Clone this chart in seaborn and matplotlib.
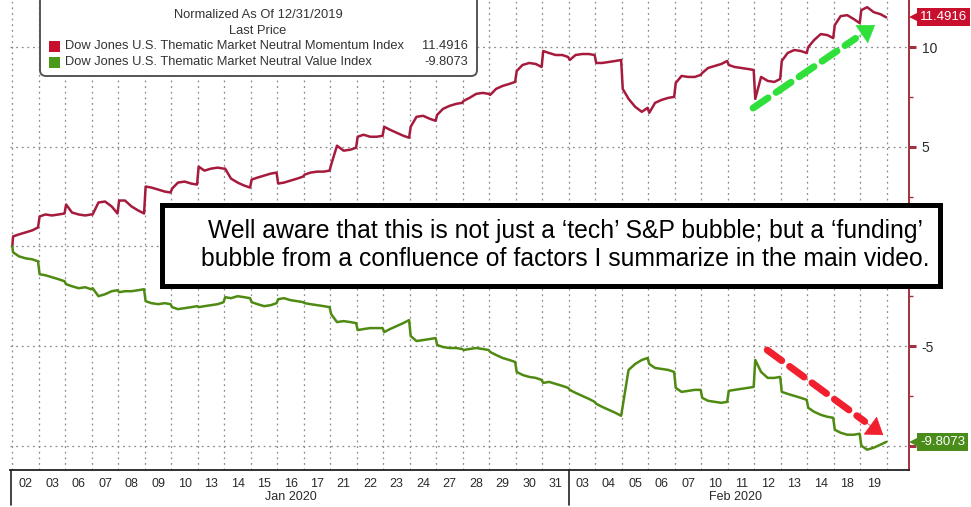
import numpy as np
import pandas as pd
import matplotlib
matplotlib.use("Agg")
import matplotlib.pyplot as plt
import matplotlib.transforms as mtrans
from matplotlib.patches import FancyBboxPatch, Rectangle
import seaborn as sns

# ---------------- data ----------------
day_labels = ["02", "03", "06", "07", "08", "09", "10", "13", "14", "15", "16", "17",
              "21", "22", "23", "24", "27", "28", "29", "30", "31",
              "03", "04", "05", "06", "07", "10", "11", "12", "13", "14", "18", "19"]
month_labels = ["Jan 2020", "Feb 2020"]
month_day_counts = [21, 12]
series_names = ["Dow Jones U.S. Thematic Market Neutral Momentum Index",
                "Dow Jones U.S. Thematic Market Neutral Value Index"]
last_prices = [11.4916, -9.8073]
legend_title = ["Normalized As Of 12/31/2019", "Last Price"]
base_value = 0.0  # close of 12/31/2019
intraday_fractions = [0.03, 0.25, 0.5, 0.75, 0.97]

momentum_intraday = [
    [0.5, 0.6, 0.7, 0.8, 0.95], [1.5, 1.6, 1.55, 1.6, 1.65], [2.1, 1.7, 1.6, 1.55, 1.6],
    [1.6, 2.2, 2.25, 2.0, 1.65], [2.3, 2.3, 2.0, 1.8, 1.65], [3.0, 2.95, 2.85, 2.75, 2.7],
    [2.9, 3.2, 3.25, 3.15, 3.1], [4.0, 3.8, 3.9, 3.95, 3.9], [3.9, 3.4, 3.2, 3.05, 2.95],
    [3.35, 3.45, 3.55, 3.65, 3.7], [3.15, 3.2, 3.3, 3.4, 3.5], [3.6, 3.7, 3.75, 3.75, 3.8],
    [4.1, 5.05, 4.8, 4.85, 4.95], [5.5, 5.6, 5.5, 5.5, 5.55], [6.0, 5.85, 5.7, 5.55, 5.45],
    [6.0, 6.5, 6.55, 6.4, 6.3], [6.6, 6.9, 7.05, 7.15, 7.2], [7.3, 7.45, 7.65, 7.7, 7.65],
    [7.6, 7.9, 8.05, 8.15, 8.25], [8.8, 9.1, 9.2, 9.15, 9.0], [9.8, 9.7, 9.6, 9.6, 9.5],
    [9.35, 9.6, 9.65, 9.65, 9.6], [9.2, 9.2, 9.25, 9.3, 9.35], [7.9, 7.4, 7.0, 6.75, 6.95],
    [6.7, 7.2, 7.35, 7.45, 7.5], [8.2, 8.55, 8.5, 8.5, 8.6], [8.7, 8.95, 9.05, 9.15, 9.3],
    [9.1, 9.0, 8.95, 8.9, 8.85], [7.4, 8.5, 8.3, 8.25, 8.4], [9.3, 9.7, 9.85, 9.8, 9.7],
    [10.0, 10.35, 10.65, 10.6, 10.45], [11.1, 11.55, 11.6, 11.4, 11.2],
    [11.85, 12.0, 11.75, 11.65, 11.49],
]
value_intraday = [
    [-0.3, -0.5, -0.6, -0.65, -0.75], [-1.4, -1.45, -1.55, -1.65, -1.75],
    [-1.9, -2.0, -2.1, -2.05, -2.15], [-2.1, -2.5, -2.4, -2.25, -2.2],
    [-2.3, -2.25, -2.25, -2.2, -2.15], [-2.75, -2.85, -2.9, -2.85, -2.9],
    [-3.05, -3.15, -3.1, -3.05, -3.0], [-3.05, -3.0, -2.95, -2.9, -2.8],
    [-2.55, -2.6, -2.5, -2.55, -2.6], [-2.8, -2.9, -3.0, -2.95, -2.85],
    [-2.65, -2.6, -2.7, -2.75, -2.8], [-2.85, -2.9, -2.95, -3.0, -3.05],
    [-3.4, -3.8, -3.75, -3.8, -3.85], [-4.2, -4.15, -4.1, -4.1, -4.1],
    [-4.3, -4.15, -4.0, -3.85, -3.7], [-4.5, -4.75, -4.7, -4.65, -4.6],
    [-4.95, -5.05, -5.1, -5.1, -5.15], [-5.2, -5.15, -5.1, -5.15, -5.2],
    [-5.3, -5.45, -5.6, -5.7, -5.8], [-6.3, -6.45, -6.55, -6.6, -6.7],
    [-6.85, -6.8, -6.9, -7.0, -7.1], [-7.2, -7.35, -7.5, -7.65, -7.8],
    [-7.9, -8.05, -8.2, -8.35, -8.5], [-8.0, -6.2, -5.9, -5.7, -5.6],
    [-5.9, -6.1, -6.15, -6.2, -6.3], [-7.1, -7.3, -7.25, -7.2, -7.2],
    [-7.6, -7.75, -7.8, -7.85, -7.8], [-7.25, -7.2, -7.15, -7.1, -7.05],
    [-5.7, -6.3, -6.6, -6.6, -6.55], [-7.3, -7.4, -7.5, -7.6, -7.7],
    [-8.1, -8.3, -8.45, -8.55, -8.6], [-9.2, -9.35, -9.45, -9.45, -9.4],
    [-10.0, -10.2, -10.1, -9.95, -9.81],
]
note_lines = ["Well aware that this is not just a \u2018tech\u2019 S&P bubble; but a \u2018funding\u2019",
              "bubble from a confluence of factors I summarize in the main video."]

# ---------------- style ----------------
sns.set_style("white")
plt.rcParams["font.family"] = ["Liberation Sans", "DejaVu Sans"]
MOM_C = "#a61b3d"
VAL_C = "#4f8a12"
TAG_R = "#c8102e"
TAG_G = "#4a8c1a"
AXIS_R = "#a3303e"
GRID_C = "#8c8c8c"
TXT_C = "#2a2a2a"

W, H = 971, 507
fig = plt.figure(figsize=(W / 100, H / 100), dpi=100)
ax = fig.add_axes([10 / W, 37 / H, 899 / W, 470 / H])
P = mtrans.Affine2D().scale(1 / W, 1 / H) + fig.transFigure  # pixel coords (origin bottom-left)

# ---------------- lines ----------------
rows = []
for name, days in zip(series_names, [momentum_intraday, value_intraday]):
    rows.append((name, 0.0, base_value))
    for d, vals in enumerate(days):
        for f, v in zip(intraday_fractions, vals):
            rows.append((name, d + f, v))
df = pd.DataFrame(rows, columns=["series", "pos", "val"])
sns.lineplot(data=df, x="pos", y="val", hue="series", palette=[MOM_C, VAL_C],
             estimator=None, sort=False, lw=1.8, legend=False, ax=ax, zorder=3)

n_days = len(day_labels)
ax.set_xlim(-0.087, 33.83)
ax.set_ylim(-11.22, 12.36)

# x axis
ax.set_xticks(np.arange(n_days) + 0.5)
ax.set_xticklabels(day_labels, fontsize=9, color=TXT_C)
ax.set_xticks(np.arange(n_days + 1), minor=True)
ax.tick_params(axis="x", which="both", length=0, pad=6)
ax.grid(which="minor", axis="x", color=GRID_C, lw=0.9, ls=(0, (1.5, 3)))
ax.grid(which="major", axis="x", visible=False)
ax.set_xlabel("")
ax.set_ylabel("")

# y axis on right
ax.yaxis.tick_right()
ax.set_yticks([-10, -5, 0, 5, 10])
ax.set_yticklabels(["", "-5", "", "5", "10"], fontsize=10, color=TXT_C)
ax.set_yticks([-7.5, -2.5, 2.5, 7.5], minor=True)
ax.tick_params(axis="y", which="major", length=5, width=2.2, color=AXIS_R, pad=4, direction="out")
ax.tick_params(axis="y", which="minor", length=3, width=1, color=AXIS_R, direction="out")
ax.grid(which="major", axis="y", color=GRID_C, lw=0.9, ls=(0, (1.5, 3)))

for s in ["top", "left"]:
    ax.spines[s].set_visible(False)
ax.spines["right"].set_color(AXIS_R)
ax.spines["right"].set_linewidth(1.4)
ax.spines["bottom"].set_color("#222222")
ax.spines["bottom"].set_linewidth(1.3)

# month labels and separators
bt = mtrans.blended_transform_factory(ax.transData, ax.transAxes)
start = 0
for lab, cnt in zip(month_labels, month_day_counts):
    ax.text(start + cnt / 2 + (0.3 if start else 0), -0.058, lab, transform=bt,
            ha="center", va="center", fontsize=9, color=TXT_C)
    start += cnt
for sep in [ax.get_xlim()[0] + 0.05, month_day_counts[0]]:
    ax.plot([sep, sep], [0, -0.075], transform=bt, color="#222222", lw=1.2, clip_on=False)

# last-price tags
for val, col in zip(last_prices, [TAG_R, TAG_G]):
    ax.annotate(f"{val:.4f}", xy=(1.0, val), xycoords=("axes fraction", "data"),
                xytext=(8, 0), textcoords="offset points", ha="left", va="center",
                color="white", fontsize=9.5, annotation_clip=False, zorder=6,
                bbox=dict(boxstyle="square,pad=0.22", fc=col, ec="none"))
    ax.plot([1.0], [val], marker="<", ms=8, mew=0, color=col,
            transform=mtrans.blended_transform_factory(ax.transAxes, ax.transData) +
            mtrans.ScaledTranslation(6 / 100, 0, fig.dpi_scale_trans),
            clip_on=False, zorder=6)

# hand-drawn style arrows
for (x0, y0, x1, y1, col) in [(27.95, 6.94, 32.55, 11.1, "#2fe03a"),
                              (28.48, -5.2, 32.86, -9.47, "#f0202e")]:
    xm = x0 + (x1 - x0) * 0.84
    ym = y0 + (y1 - y0) * 0.84
    ax.annotate("", xy=(xm, ym), xytext=(x0, y0),
                arrowprops=dict(arrowstyle="-", lw=5, ls=(0, (2.6, 1.4)), color=col,
                                shrinkA=0, shrinkB=0), zorder=5)
    ax.annotate("", xy=(x1, y1), xytext=(xm - (x1 - x0) * 0.02, ym - (y1 - y0) * 0.02),
                arrowprops=dict(arrowstyle="-|>,head_length=1.1,head_width=0.75", lw=0.5,
                                color=col, shrinkA=0, shrinkB=0), zorder=5)

# ---------------- legend box ----------------
fig.add_artist(FancyBboxPatch((40, H - 76), 437, 120, boxstyle="round,pad=0,rounding_size=6",
                              transform=P, fc="white", ec="#555555", lw=1.4, zorder=4))
lfont = dict(fontsize=9.3, color="#333333", va="center", zorder=5)
fig.text(258 / W, 1 - 15 / H, legend_title[0], ha="center", **lfont)
fig.text(258 / W, 1 - 31 / H, legend_title[1], ha="center", **lfont)
for i, (name, val, col) in enumerate(zip(series_names, last_prices, [TAG_R, "#4a9a1a"])):
    yy = 46 + 16 * i
    fig.add_artist(Rectangle((49, H - yy - 5.5), 11, 11, transform=P, fc=col, ec="none", zorder=5))
    fig.text(65 / W, 1 - yy / H, name, ha="left", **lfont)
    fig.text(468 / W, 1 - yy / H, f"{val:.4f}", ha="right", **lfont)

# ---------------- annotation text box ----------------
fig.add_artist(FancyBboxPatch((161.5, H - 285.5), 778, 81, boxstyle="square,pad=0",
                              transform=P, fc="white", ec="black", lw=3.6, zorder=4))
for i, line in enumerate(note_lines):
    fig.text(565 / W, 1 - (238 + 28 * i) / H, line, ha="center", va="baseline",
             fontsize=17.8, color="black", zorder=5)

fig.savefig("out.png", dpi=100)
